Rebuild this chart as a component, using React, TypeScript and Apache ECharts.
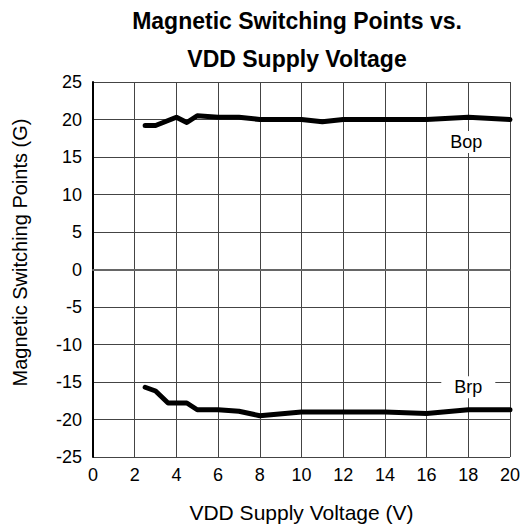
import React, { useEffect, useRef } from "react";
import * as echarts from "echarts";

const titleLines = ["Magnetic Switching Points vs.", "VDD Supply Voltage"];
const xAxisName = "VDD Supply Voltage (V)";
const yAxisName = "Magnetic Switching Points (G)";

const bopVoltage = [2.5, 3, 4, 4.5, 5, 6, 7, 8, 10, 11, 12, 14, 16, 18, 20];
const bopValues = [19.2, 19.2, 20.3, 19.6, 20.5, 20.3, 20.3, 20.0, 20.0, 19.7, 20.0, 20.0, 20.0, 20.3, 20.0];

const brpVoltage = [2.5, 3, 3.6, 4.5, 5, 6, 7, 8, 10, 12, 14, 16, 18, 20];
const brpValues = [-15.7, -16.2, -17.8, -17.8, -18.7, -18.7, -18.9, -19.5, -19.0, -19.0, -19.0, -19.2, -18.7, -18.7];

const bopLabel = { text: "Bop", x: 17.9, y: 17.0 };
const brpLabel = { text: "Brp", x: 18.0, y: -15.7 };

const FONT = "'Liberation Sans', Arial, sans-serif";

export default function App() {
  const ref = useRef<HTMLDivElement>(null);
  useEffect(() => {
    if (!ref.current) return;
    const chart = echarts.init(ref.current, null, { renderer: "svg" });
    const pairs = (xs: number[], ys: number[]) => xs.map((x, i) => [x, ys[i]]);
    const labelPoint = (l: { text: string; x: number; y: number }, pad: number[]) => ({
      coord: [l.x, l.y],
      symbol: "rect",
      symbolSize: 0,
      label: {
        show: true,
        position: "inside",
        formatter: l.text,
        color: "#000",
        fontSize: 18,
        fontFamily: FONT,
        backgroundColor: "#fff",
        padding: pad,
      },
    });
    chart.setOption({
      animation: false,
      backgroundColor: "#fff",
      grid: { left: 93, right: 11, top: 82, bottom: 72, containLabel: false },
      graphic: [
        {
          type: "text",
          x: 297,
          y: 21,
          style: {
            text: titleLines[0],
            textAlign: "center",
            textVerticalAlign: "middle",
            font: `bold 23px ${FONT}`,
            fill: "#000",
          },
        },
        {
          type: "text",
          x: 297,
          y: 59,
          style: {
            text: titleLines[1],
            textAlign: "center",
            textVerticalAlign: "middle",
            font: `bold 23px ${FONT}`,
            fill: "#000",
          },
        },
      ],
      xAxis: {
        type: "value",
        min: 0,
        max: 20,
        interval: 2,
        name: xAxisName,
        nameLocation: "middle",
        nameGap: 45,
        nameTextStyle: { fontSize: 21, fontFamily: FONT, color: "#000" },
        axisLine: { show: true, lineStyle: { color: "#666", width: 2 } },
        axisTick: { show: false },
        axisLabel: { fontSize: 18, fontFamily: FONT, color: "#000", margin: 9 },
        splitLine: { show: true, lineStyle: { color: "#444", width: 1 } },
      },
      yAxis: {
        type: "value",
        min: -25,
        max: 25,
        interval: 5,
        name: yAxisName,
        nameLocation: "middle",
        nameGap: 63,
        nameTextStyle: { fontSize: 20, fontFamily: FONT, color: "#000", padding: [0, 0, 0, 34] },
        axisLine: { show: true, lineStyle: { color: "#000", width: 2 } },
        axisTick: { show: false },
        axisLabel: { fontSize: 18, fontFamily: FONT, color: "#000", margin: 11 },
        splitLine: { show: true, lineStyle: { color: "#444", width: 1 } },
      },
      series: [
        {
          type: "line",
          name: "Bop",
          data: pairs(bopVoltage, bopValues),
          showSymbol: false,
          symbol: "none",
          lineStyle: { color: "#000", width: 5, cap: "round", join: "round" },
          markPoint: { silent: true, data: [labelPoint(bopLabel, [2, 4])] },
          z: 3,
        },
        {
          type: "line",
          name: "Brp",
          data: pairs(brpVoltage, brpValues),
          showSymbol: false,
          symbol: "none",
          lineStyle: { color: "#000", width: 5, cap: "round", join: "round" },
          markPoint: { silent: true, data: [labelPoint(brpLabel, [2, 13])] },
          z: 3,
        },
      ],
    });
    return () => chart.dispose();
  }, []);
  return (
    <div
      ref={ref}
      style={{ position: "fixed", left: 0, top: 0, width: 523, height: 529, background: "#fff" }}
    />
  );
}
